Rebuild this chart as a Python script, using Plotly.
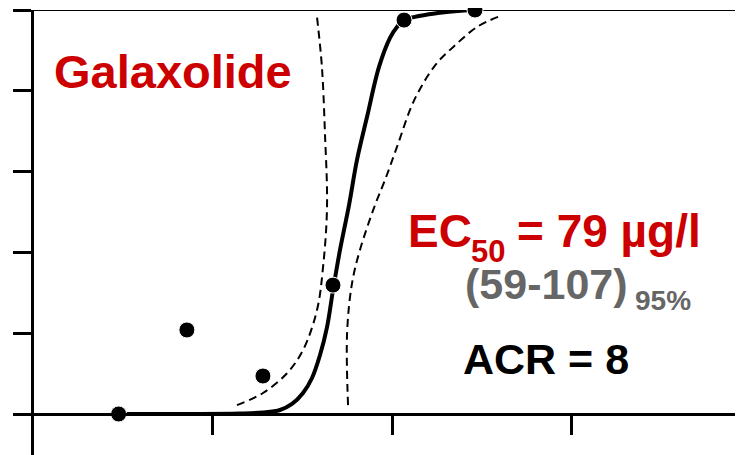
import plotly.graph_objects as go

# Measured data points (concentration µg/l, effect %)
conc_points = [3.0, 7.2, 19.1, 46.9, 116.7, 290.0]
effect_points = [0.0, 20.8, 9.4, 31.9, 97.5, 100.0]

# Fitted concentration-response curve
fit_conc = [2.94, 6.59, 14.23, 19.11, 23.77, 27.73, 31.93, 35.84, 39.72, 43.45,
            46.93, 51.32, 57.61, 63.83, 72.56, 84.65, 97.47, 106.6, 116.7, 185.1, 290.0]
fit_effect = [0.0, 0.0, 0.12, 0.37, 0.99, 2.48, 5.2, 8.91, 14.6, 21.5,
              30.7, 40.6, 51.7, 62.9, 73.5, 85.9, 93.1, 95.8, 97.5, 99.3, 100.0]

# 95% confidence limits
ci_a_conc = [13.69, 19.11, 26.0, 31.93, 38.2, 41.3, 43.45, 42.3, 40.7, 38.2]
ci_a_effect = [2.2, 5.2, 10.1, 15.8, 25.7, 36.4, 51.2, 69.6, 85.9, 98.3]
ci_b_conc = [56.9, 56.2, 59.9, 66.3, 80.4, 91.4, 106.6, 133.0, 176.0, 218.7, 297.5, 389.5]
ci_b_effect = [2.2, 20.0, 32.4, 40.6, 51.7, 57.9, 66.1, 77.7, 86.6, 90.8, 95.8, 98.3]

y_ticks = [0, 20, 40, 60, 80, 100]
x_ticks = [10, 100, 1000]

title_text = "Galaxolide"
ec_main = "EC"
ec_sub = "50"
ec_value = "= 79 µg/l"
ci_text = "(59-107)"
ci_level_text = "95%"
acr_text = "ACR = 8"

RED = "#CC0000"
GRAY = "#666666"
FONT = "Liberation Sans, Arial, sans-serif"

# page body has an 8px margin: compensate so the plot lands where the reference has it
OFF = 8
PL, PT = 34, 10          # plot-area left / top on screen
PW, PH = 743 - PL, 455 - PT


def px(xs):
    return (xs - PL) / PW


def py(ys):
    return (455 - ys) / PH


def label(text, x, y, size, color, box_h=None):
    d = dict(text=f"<b>{text}</b>", xref="paper", yref="paper", x=px(x), y=py(y),
             xanchor="left", yanchor="middle", showarrow=False,
             font=dict(size=size, color=color, family=FONT))
    if box_h is not None:
        d["height"] = box_h
        d["borderpad"] = 0
    return d


fig = go.Figure()
fig.add_trace(go.Scatter(x=ci_a_conc, y=ci_a_effect, mode="lines", line_shape="spline",
                         line=dict(color="black", width=2, dash="8px,5px"), cliponaxis=False))
fig.add_trace(go.Scatter(x=ci_b_conc, y=ci_b_effect, mode="lines", line_shape="spline",
                         line=dict(color="black", width=2, dash="8px,5px"), cliponaxis=False))
fig.add_trace(go.Scatter(x=fit_conc, y=fit_effect, mode="lines", line_shape="spline",
                         line=dict(color="black", width=4), cliponaxis=False))
fig.add_trace(go.Scatter(x=conc_points, y=effect_points, mode="markers",
                         marker=dict(color="black", size=16, line=dict(color="white", width=1)),
                         cliponaxis=False))

fig.update_layout(
    width=743 - OFF, height=455 - OFF,
    margin=dict(l=PL - OFF, r=0, t=PT - OFF, b=0),
    paper_bgcolor="white", plot_bgcolor="white",
    showlegend=False,
    font=dict(family=FONT),
    xaxis=dict(type="log", range=[(PL - 33) / 179.5, 710 / 179.5], anchor="free",
               position=41 / PH,
               showline=True, linecolor="black", linewidth=2.5,
               ticks="outside", ticklen=19, tickwidth=2.5, tickcolor="black",
               tickvals=x_ticks, showticklabels=False, showgrid=False, zeroline=False),
    yaxis=dict(range=[-41 / 4.04, 100], showline=True, linecolor="black", linewidth=3,
               ticks="outside", ticklen=18, tickwidth=2.5, tickcolor="black",
               tickvals=y_ticks, showticklabels=False, showgrid=False, zeroline=False),
    shapes=[dict(type="line", xref="paper", yref="y", x0=0, x1=1, y0=100, y1=100,
                 line=dict(color="black", width=2), layer="below")],
    annotations=[
        label(title_text, 52, 72, 47, RED),
        label(ec_main, 406, 231, 46, RED),
        label(ec_sub, 470, 251, 31, RED, box_h=30),
        label(ec_value, 515, 231, 46, RED),
        label(ci_text, 463, 284, 43, GRAY),
        label(ci_level_text, 633, 300, 28, GRAY),
        label(acr_text, 461, 359, 43, "black"),
    ],
)

fig.write_html("out.html")
